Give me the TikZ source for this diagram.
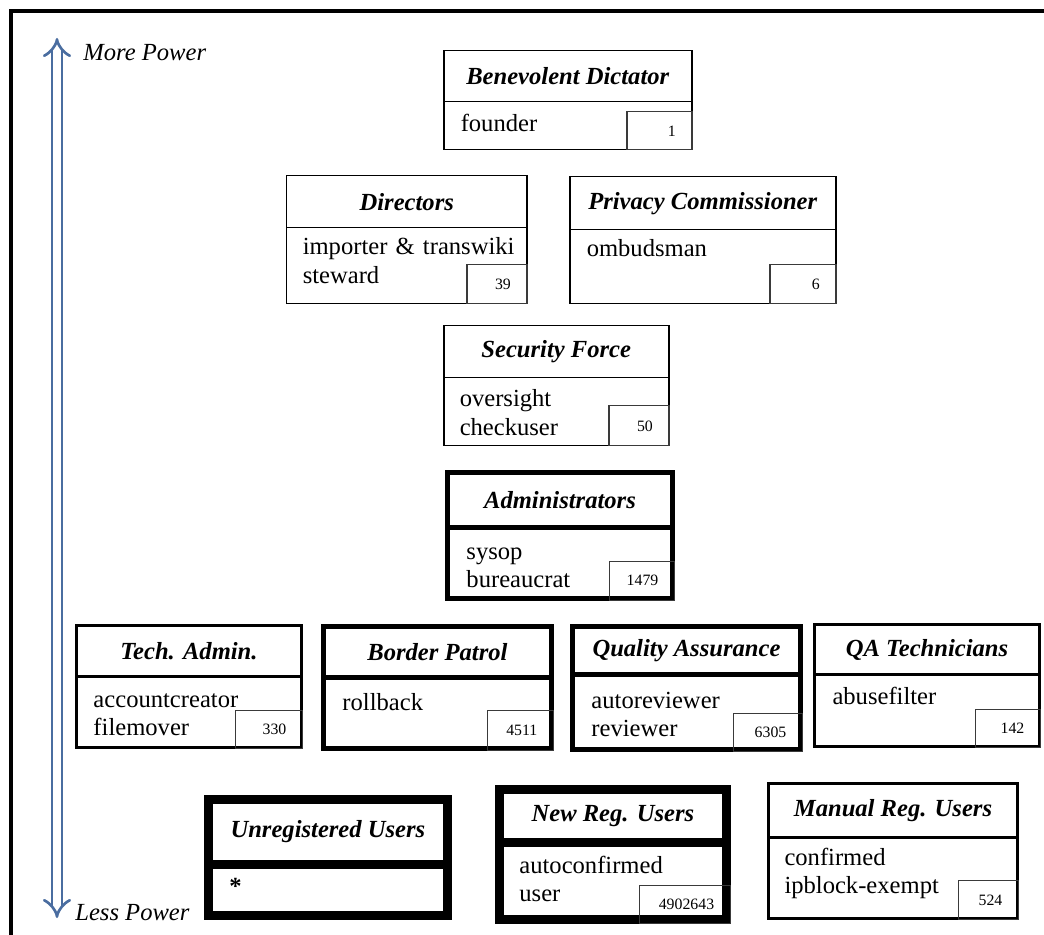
\documentclass[tikz,border=0pt]{standalone}
\usepackage{fontspec}
\setmainfont{Liberation Serif}
\usetikzlibrary{arrows.meta}
\definecolor{steel}{HTML}{4A6DA0}
\definecolor{rule}{HTML}{3A3A3A}

\begin{document}
\begin{tikzpicture}[x=.02cm,y=-.02cm,font=\fontsize{14}{16}\selectfont,
 head/.style 2 args={draw,anchor=north west,inner sep=0pt,minimum width=#1*.02cm,minimum height=#2*.02cm,
  font=\bfseries\itshape\fontsize{14}{16}\selectfont},
 body/.style 2 args={draw,anchor=north west,inner sep=0pt,minimum width=#1*.02cm,minimum height=#2*.02cm},
 count/.style 2 args={draw=rule,line width=.7pt,anchor=south east,inner xsep=.32cm,inner ysep=0pt,
  text width=(#1-32)*.02cm,align=right,minimum height=#2*.02cm,font=\fontsize{9}{10}\selectfont},
 role/.style={anchor=base west,text width=5cm,align=left,inner sep=0pt},
 rim/.style={line width=#1},
 power/.style={draw=steel,double,double distance=4pt,line width=1.5pt,{Implies[scale=1.05]}-{Implies[scale=1.05]}}]
\useasboundingbox (0,0) rectangle (1044,935);
\draw[line width=1.8pt] (1044,11) -- (11,11) -- (11,935);
% power scale on the left
\coordinate (up) at (57,38);
\coordinate (down) at (57,918);
\draw[power] (down) -- (up);
\node[anchor=base west,inner sep=0pt,font=\itshape\fontsize{14}{16}\selectfont] (more) at (83,61) {More Power};
\node[anchor=base west,inner sep=0pt,font=\itshape\fontsize{14}{16}\selectfont] (less) at (75,920) {Less Power};
% top rows
\begin{scope}[rim=.85pt]
\node[head={248}{51}] (dictH) at (443,50) {Benevolent Dictator};
\node[body={248}{48}] (dictB) at (443,101) {};
\node[count={65}{38}] (dictN) at (dictB.south east) {1};
\node[role] (dictR) at (460,132) {founder};
\node[head={240}{52}] (dirH) at (286,175) {Directors};
\node[body={240}{76}] (dirB) at (286,227) {};
\node[count={60}{39}] (dirN) at (dirB.south east) {39};
\node[role] (dirR) at (302,255) {importer \& transwiki\\steward};
\node[head={266}{53}] (privH) at (569,176) {Privacy Commissioner};
\node[body={266}{74}] (privB) at (569,229) {};
\node[count={66}{39}] (privN) at (privB.south east) {6};
\node[role] (privR) at (586,257) {ombudsman};
\node[head={225}{52}] (secH) at (443,325) {Security Force};
\node[body={225}{68}] (secB) at (443,377) {};
\node[count={60}{40}] (secN) at (secB.south east) {50};
\node[role] (secR) at (459,407) {oversight\\checkuser};
\end{scope}
\begin{scope}[rim=2.8pt]
\node[head={225}{55}] (admH) at (445,470) {Administrators};
\node[body={225}{71}] (admB) at (445,525) {};
\node[role] (admR) at (464,559) {sysop\\bureaucrat};
\node[head={228}{51}] (bordH) at (321,624) {Border Patrol};
\node[body={228}{71}] (bordB) at (321,675) {};
\node[role] (bordR) at (340,710) {rollback};
\node[head={228}{48}] (qaH) at (570,624) {Quality Assurance};
\node[body={228}{75}] (qaB) at (570,672) {};
\node[role] (qaR) at (589,708) {autoreviewer\\reviewer};
\end{scope}
\node[count={65}{39}] (admN) at (admB.south east) {1479};
\node[count={66}{40}] (bordN) at (bordB.south east) {4511};
\node[count={69}{38}] (qaN) at (qaB.south east) {6305};
\begin{scope}[rim=1.7pt]
\node[head={225}{51}] (techH) at (75,624) {Tech. Admin.};
\node[body={225}{71}] (techB) at (75,675) {};
\node[role] (techR) at (92,707) {accountcreator\\filemover};
\node[head={225}{50}] (qatH) at (813,623) {QA Technicians};
\node[body={225}{72}] (qatB) at (813,673) {};
\node[role] (qatR) at (831,704) {abusefilter};
\node[head={249}{54}] (manH) at (767,782) {Manual Reg. Users};
\node[body={249}{81}] (manB) at (767,836) {};
\node[role] (manR) at (783,865) {confirmed\\ipblock-exempt};
\end{scope}
\node[count={67}{38}] (techN) at (techB.south east) {330};
\node[count={65}{38}] (qatN) at (qatB.south east) {142};
\node[count={60}{39}] (manN) at (manB.south east) {524};
% bottom row, heaviest rims
\begin{scope}[rim=5pt]
\node[head={239}{65}] (unregH) at (204,795) {Unregistered Users};
\node[body={239}{51}] (unregB) at (204,860) {};
\node[role] (unregR) at (225,894) {\textbf{*}};
\node[head={227}{53}] (newH) at (495,785) {New Reg. Users};
\node[body={227}{77}] (newB) at (495,838) {};
\node[role] (newR) at (515,873) {autoconfirmed\\user};
\end{scope}
\node[count={91}{38}] (newN) at (newB.south east) {4902643};
\end{tikzpicture}
\end{document}
